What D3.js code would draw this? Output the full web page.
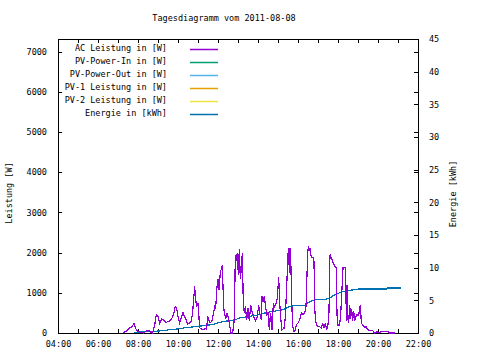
<!DOCTYPE html>
<html>
<head>
<meta charset="utf-8">
<script src="https://cdn.jsdelivr.net/npm/d3@7"></script>
<style>
    body { margin: 0; background: #fff; }
    svg text { font-family: "DejaVu Sans Mono", "Liberation Mono", monospace; font-size: 8.5px; fill: #000; }
</style>
</head>
<body>
<svg id="chart" width="480" height="360"></svg>
<script>
const titleText = 'Tagesdiagramm vom 2011-08-08';
const day = '2011-08-08';

const seriesNames = ['AC Leistung in [W]', 'PV-Power-In in [W]', 'PV-Power-Out in [W]',
    'PV-1 Leistung in [W]', 'PV-2 Leistung in [W]', 'Energie in [kWh]'];
const seriesColors = ['#9400d3', '#009e73', '#56b4e9', '#e69f00', '#f0e442', '#0072b2'];

// AC Leistung [W]
const acPower = [
    ['07:15', 0], ['07:25', 50], ['07:35', 125], ['07:41', 150], ['07:48', 230], ['07:55', 80],
    ['08:00', 40], ['08:08', 20], ['08:17', 0], ['08:26', 50], ['08:32', 60], ['08:38', 20],
    ['08:44', 0], ['08:50', 200], ['08:55', 450], ['09:00', 420], ['09:05', 250], ['09:11', 350],
    ['09:17', 330], ['09:23', 260], ['09:29', 280], ['09:35', 300], ['09:41', 350], ['09:47', 480],
    ['09:52', 660], ['09:56', 620], ['09:59', 455], ['10:05', 250], ['10:11', 400], ['10:15', 505],
    ['10:20', 400], ['10:23', 350], ['10:29', 220], ['10:35', 250], ['10:40', 300], ['10:44', 520],
    ['10:50', 1160], ['10:53', 830], ['10:56', 660], ['11:00', 750], ['11:05', 130], ['11:11', 100],
    ['11:17', 80], ['11:23', 120], ['11:26', 90], ['11:29', 415], ['11:35', 260], ['11:41', 280],
    ['11:47', 500], ['11:50', 660], ['11:53', 620], ['11:57', 1160], ['12:00', 1330], ['12:03', 1080],
    ['12:07', 1500], ['12:13', 1700], ['12:17', 620], ['12:23', 350], ['12:27', 500], ['12:32', 350],
    ['12:35', 170], ['12:39', 0], ['12:44', 0], ['12:49', 330], ['12:52', 1950], ['12:55', 1800],
    ['12:58', 2000], ['13:01', 1450], ['13:04', 2100], ['13:07', 1350], ['13:11', 1700], ['13:13', 2000],
    ['13:16', 700], ['13:19', 500], ['13:22', 660], ['13:26', 330], ['13:30', 620], ['13:34', 300],
    ['13:38', 700], ['13:43', 500], ['13:48', 380], ['13:53', 300], ['13:58', 410], ['14:02', 700],
    ['14:06', 450], ['14:10', 330], ['14:12', 910], ['14:15', 780], ['14:19', 910], ['14:23', 620],
    ['14:27', 450], ['14:31', 500], ['14:32', 200], ['14:35', 80], ['14:36', 330], ['14:38', 500],
    ['14:42', 80], ['14:46', 740], ['14:50', 660], ['14:54', 740], ['14:58', 870], ['15:02', 1380],
    ['15:05', 780], ['15:08', 380], ['15:12', 80], ['15:18', 120], ['15:22', 380], ['15:26', 1160],
    ['15:30', 1950], ['15:32', 2120], ['15:34', 1500], ['15:36', 2120], ['15:38', 1950], ['15:41', 780],
    ['15:44', 200], ['15:47', 40], ['15:50', 40], ['15:55', 200], ['16:00', 250], ['16:05', 330],
    ['16:10', 500], ['16:15', 450], ['16:20', 500], ['16:24', 660], ['16:27', 1450], ['16:29', 1950],
    ['16:31', 2160], ['16:34', 2040], ['16:36', 2120], ['16:38', 1950], ['16:42', 1870], ['16:45', 1870],
    ['16:48', 1780], ['16:50', 620], ['16:53', 300], ['16:56', 200], ['17:00', 160], ['17:05', 160],
    ['17:10', 120], ['17:14', 250], ['17:18', 120], ['17:22', 250], ['17:26', 80], ['17:30', 200],
    ['17:33', 540], ['17:36', 1950], ['17:40', 1870], ['17:45', 1750], ['17:50', 1660], ['17:55', 1620],
    ['17:57', 460], ['18:00', 200], ['18:05', 200], ['18:08', 450], ['18:15', 1620], ['18:23', 1620],
    ['18:25', 300], ['18:27', 1200], ['18:29', 400], ['18:32', 250], ['18:35', 700], ['18:38', 350],
    ['18:41', 600], ['18:44', 300], ['18:47', 550], ['18:50', 300], ['18:56', 450], ['19:02', 450],
    ['19:07', 700], ['19:10', 250], ['19:14', 200], ['19:20', 150], ['19:25', 150], ['19:29', 80],
    ['19:35', 60], ['19:44', 60], ['19:50', 0], ['19:56', 30], ['20:05', 10], ['20:11', 40],
    ['20:29', 40], ['20:35', 0], ['20:50', 0]
];

// Energie [kWh]
const energy = [
    ['07:47', 0.1], ['08:35', 0.2], ['09:14', 0.35], ['09:35', 0.5], ['10:05', 0.65], ['10:20', 0.8],
    ['10:59', 1.0], ['11:44', 1.3], ['12:14', 1.75], ['12:50', 2.0], ['13:05', 2.3], ['13:35', 2.55],
    ['14:05', 2.8], ['14:20', 3.05], ['14:44', 3.3], ['15:14', 3.55], ['15:35', 4.05], ['15:44', 4.15],
    ['16:20', 4.15], ['16:29', 4.6], ['16:50', 5.1], ['17:20', 5.1], ['17:35', 5.35], ['17:50', 5.85],
    ['18:14', 6.35], ['18:44', 6.6], ['19:05', 6.75], ['20:26', 6.75], ['20:29', 6.9], ['21:10', 6.9]
];

const xRange = ['04:00', '22:00'];
const y1Ticks = [0, 1000, 2000, 3000, 4000, 5000, 6000, 7000];
const y1Max = 7312.5;
const y2Ticks = [0, 5, 10, 15, 20, 25, 30, 35, 40, 45];

const margin = { left: 58, right: 418, top: 39, bottom: 333 };
const parseTime = d3.timeParse('%Y-%m-%d %H:%M');
const t = s => parseTime(day + ' ' + s);

(function init() {
    drawChart();
})();

function drawChart() {
    const svg = d3.select('#chart');

    const x = d3.scaleTime().domain(xRange.map(t)).range([margin.left, margin.right]);
    const y1 = d3.scaleLinear().domain([0, y1Max]).range([margin.bottom, margin.top]);
    const y2 = d3.scaleLinear().domain([0, 45]).range([margin.bottom, margin.top]);

    svg.append('text').attr('x', 224).attr('y', 21).attr('text-anchor', 'middle').text(titleText);

    const hours = d3.timeHour.range(t('04:00'), d3.timeMinute.offset(t('22:00'), 1));

    // bottom axis: ticks every hour, labels every 2 hours
    const xAxis = d3.axisBottom(x).tickValues(hours).tickSizeInner(-4).tickSizeOuter(0)
        .tickFormat(d => d.getHours() % 2 === 0 ? d3.timeFormat('%H:%M')(d) : '');
    const gx = svg.append('g').attr('transform', `translate(0,${margin.bottom})`).call(xAxis);
    gx.selectAll('text').attr('dy', 0).attr('y', 14);

    const xTop = d3.axisTop(x).tickValues(hours).tickSizeInner(-4).tickSizeOuter(0).tickFormat('');
    svg.append('g').attr('transform', `translate(0,${margin.top})`).call(xTop);

    const yAxis = d3.axisLeft(y1).tickValues(y1Ticks).tickSizeInner(-4).tickSizeOuter(0).tickFormat(d3.format('d'));
    const gy = svg.append('g').attr('transform', `translate(${margin.left},0)`).call(yAxis);
    gy.selectAll('text').attr('x', -11);

    // y1 ticks mirrored on the right border
    const yMirror = d3.axisRight(y1).tickValues(y1Ticks).tickSizeInner(-4).tickSizeOuter(0).tickFormat('');
    svg.append('g').attr('transform', `translate(${margin.right},0)`).call(yMirror);

    const y2Axis = d3.axisRight(y2).tickValues(y2Ticks).tickSizeInner(-4).tickSizeOuter(0);
    const gy2 = svg.append('g').attr('transform', `translate(${margin.right},0)`).call(y2Axis);
    gy2.selectAll('text').attr('x', 11);

    svg.selectAll('.domain').remove();
    svg.selectAll('.tick line').attr('stroke', '#000').attr('shape-rendering', 'crispEdges');
    svg.selectAll('.tick text').style('font-family', '"DejaVu Sans Mono", monospace').style('font-size', '8.5px');

    svg.append('rect')
        .attr('x', margin.left + 0.5).attr('y', margin.top + 0.5)
        .attr('width', margin.right - margin.left).attr('height', margin.bottom - margin.top)
        .attr('fill', 'none').attr('stroke', '#000').attr('shape-rendering', 'crispEdges');

    svg.append('text').attr('transform', 'translate(12,193) rotate(-90)')
        .attr('text-anchor', 'middle').text('Leistung [W]');
    svg.append('text').attr('transform', 'translate(456,194) rotate(-90)')
        .attr('text-anchor', 'middle').text('Energie [kWh]');

    const acLine = d3.line().x(d => x(t(d[0]))).y(d => y1(d[1]));
    const energyLine = d3.line().x(d => x(t(d[0]))).y(d => y2(d[1]));

    svg.append('path').datum(energy).attr('d', energyLine)
        .attr('fill', 'none').attr('stroke', seriesColors[5]).attr('stroke-width', 1.2)
        .attr('shape-rendering', 'crispEdges');
    svg.append('path').datum(acPower).attr('d', acLine)
        .attr('fill', 'none').attr('stroke', seriesColors[0]).attr('stroke-width', 1.2)
        .attr('shape-rendering', 'crispEdges');

    // legend
    const legend = svg.append('g');
    seriesNames.forEach((name, i) => {
        const ly = 49 + i * 13;
        legend.append('text').attr('x', 167).attr('y', ly + 1.5).attr('text-anchor', 'end').text(name);
        legend.append('line').attr('x1', 190).attr('x2', 218).attr('y1', ly + 0.5).attr('y2', ly + 0.5)
            .attr('stroke', seriesColors[i]).attr('stroke-width', 1.5);
    });
}
</script>
</body>
</html>
